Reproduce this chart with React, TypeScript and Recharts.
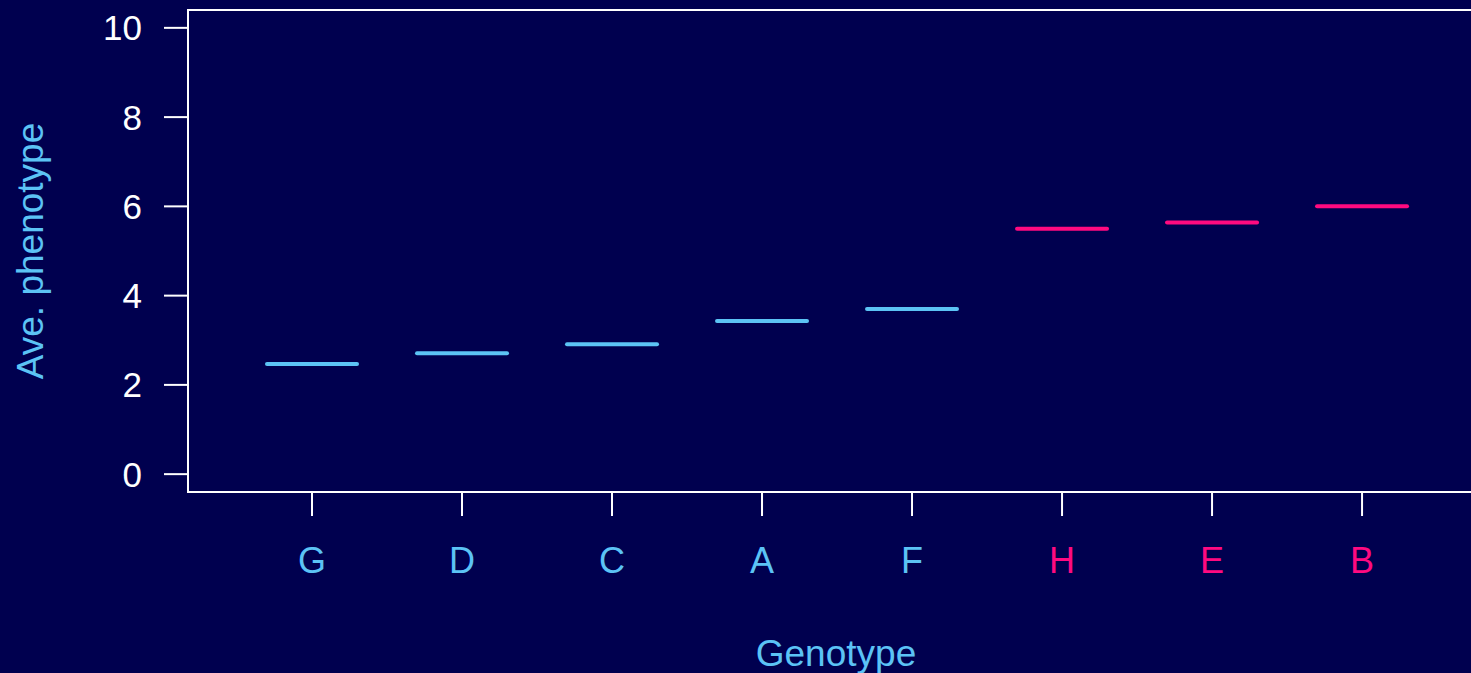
import {
  ComposedChart,
  Scatter,
  XAxis,
  YAxis,
  ReferenceArea,
} from "recharts";

const genotypes = ["G", "D", "C", "A", "F", "H", "E", "B"];
const phenotypes = [2.47, 2.71, 2.91, 3.43, 3.7, 5.5, 5.64, 6.0];
const groups = ["low", "low", "low", "low", "low", "high", "high", "high"];
const yTicks = [0, 2, 4, 6, 8, 10];

const BG = "#00004f";
const CYAN = "#5cc3f5";
const PINK = "#ff0a80";
const FONT = "'Liberation Sans', Arial, sans-serif";

const data = genotypes.map((g, i) => ({
  pos: i + 1,
  name: g,
  value: phenotypes[i],
  group: groups[i],
}));

const colorFor = (group: string) => (group === "high" ? PINK : CYAN);

function XTick(props: any) {
  const { x, y, payload } = props;
  const row = data[payload.value - 1];
  return (
    <text
      x={x}
      y={y}
      dy="0.71em"
      textAnchor="middle"
      fill={row ? colorFor(row.group) : CYAN}
      fontSize={36}
      fontFamily={FONT}
    >
      {row ? row.name : ""}
    </text>
  );
}

function MeanLine(props: any) {
  const { cx, cy, payload } = props;
  return (
    <line
      x1={cx - 45}
      x2={cx + 45}
      y1={cy}
      y2={cy}
      stroke={colorFor(payload.group)}
      strokeWidth={4}
      strokeLinecap="round"
    />
  );
}

export default function App() {
  return (
    <div
      style={{
        position: "absolute",
        left: 0,
        top: 0,
        width: 1471,
        height: 673,
        overflow: "hidden",
        background: BG,
      }}
    >
      <ComposedChart
        width={1484}
        height={673}
        data={data}
        margin={{ top: 10, right: 0, bottom: 0, left: 68 }}
      >
        <XAxis
          dataKey="pos"
          type="number"
          domain={[0.1733, 8.813]}
          ticks={[1, 2, 3, 4, 5, 6, 7, 8]}
          allowDataOverflow
          height={181}
          tickSize={24}
          tickMargin={31}
          axisLine={{ stroke: "#ffffff", strokeWidth: 2 }}
          tickLine={{ stroke: "#ffffff", strokeWidth: 2 }}
          tick={<XTick />}
          label={{
            content: (p: any) => {
              const vb = p.viewBox;
              return (
                <text
                  x={vb.x + vb.width / 2}
                  y={666}
                  textAnchor="middle"
                  fill={CYAN}
                  fontSize={37}
                  fontFamily={FONT}
                >
                  Genotype
                </text>
              );
            },
          }}
        />
        <YAxis
          type="number"
          domain={[-0.4, 10.4]}
          ticks={yTicks}
          allowDataOverflow
          width={120}
          tickSize={24}
          tickMargin={22}
          axisLine={{ stroke: "#ffffff", strokeWidth: 2 }}
          tickLine={{ stroke: "#ffffff", strokeWidth: 2 }}
          tick={{ fill: "#ffffff", fontSize: 35, fontFamily: FONT }}
          label={{
            content: (p: any) => {
              const vb = p.viewBox;
              const cy = vb.y + vb.height / 2;
              return (
                <text
                  x={30}
                  y={cy}
                  transform={`rotate(-90, 30, ${cy})`}
                  textAnchor="middle"
                  dominantBaseline="central"
                  fill={CYAN}
                  fontSize={37}
                  fontFamily={FONT}
                >
                  Ave. phenotype
                </text>
              );
            },
          }}
        />
        <ReferenceArea
          x1={0.1733}
          x2={8.813}
          y1={-0.4}
          y2={10.4}
          fill="none"
          stroke="#ffffff"
          strokeWidth={2}
          ifOverflow="visible"
        />
        <Scatter
          dataKey="value"
          shape={<MeanLine />}
          isAnimationActive={false}
        />
      </ComposedChart>
    </div>
  );
}
